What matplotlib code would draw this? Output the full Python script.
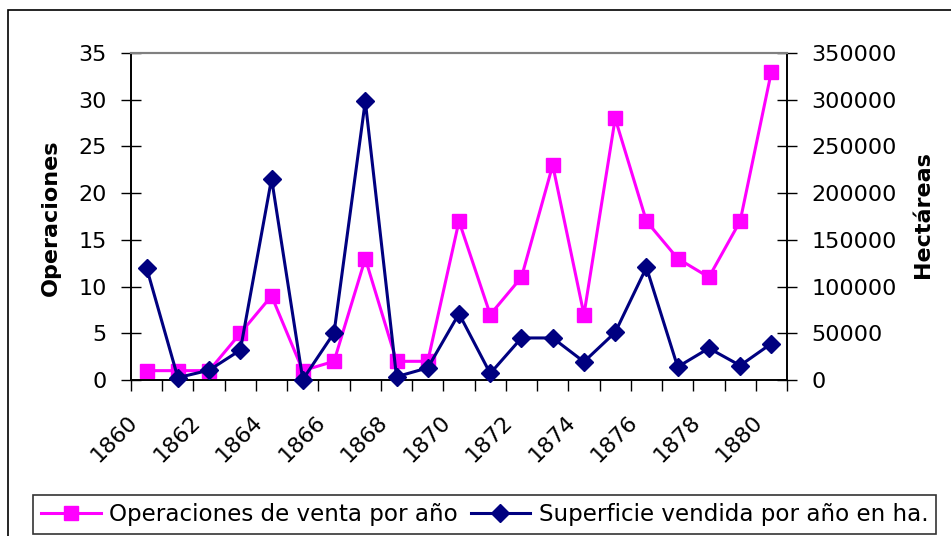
import numpy as np
import matplotlib.pyplot as plt
from matplotlib.lines import Line2D
from matplotlib.patches import Rectangle
from matplotlib.transforms import ScaledTranslation

plt.rcParams['font.family'] = ['DejaVu Sans']

#### Data ####

years = list(range(1860, 1881))
operaciones = [1, 1, 1, 5, 9, 1, 2, 13, 2, 2, 17, 7, 11, 23, 7, 28, 17, 13, 11, 17, 33]
superficie = [120000, 2500, 10500, 32000, 215500, 500, 50500, 298500, 3500, 13000,
              71000, 7000, 45000, 45000, 19500, 51000, 120500, 14000, 34000, 15500, 39000]
year_labels = [str(y) for y in years[::2]]

####################

fs = 16
pink = '#FF00FF'
navy = '#000080'

fig = plt.figure(figsize=(9.51, 5.36), dpi=100)
fig.patches.append(Rectangle((8/951, -0.1), 1.2, (536-10)/536 + 0.1,
                             transform=fig.transFigure, fill=False,
                             edgecolor='black', linewidth=1.2, zorder=0))

ax = fig.add_axes([131/951, 1 - 380/536, 656/951, 327/536])
ax2 = ax.twinx()

x = np.arange(len(years))
ax.plot(x, operaciones, color=pink, lw=2.2, marker='s', ms=10.5, mec=pink,
        clip_on=False, zorder=3)
ax2.plot(x, superficie, color=navy, lw=2.2, marker='D', ms=9.5, mec=navy,
         clip_on=False, zorder=4)

ax.set_xlim(-0.5, len(years) - 0.5)
ax.set_ylim(0, 35)
ax2.set_ylim(0, 350000)
ax.set_yticks(np.arange(0, 36, 5))
ax2.set_yticks(np.arange(0, 350001, 50000))

# category ticks between years, labels every other year
ax.set_xticks(np.arange(-0.5, len(years)), minor=False)
ax.set_xticklabels([])
ax.set_xticks(x[::2], minor=True)
ax.set_xticklabels(year_labels, minor=True, rotation=45, ha='right', va='top',
                   rotation_mode='anchor', fontsize=fs)
ax.tick_params(axis='x', which='major', direction='out', length=8, width=1)
ax.tick_params(axis='x', which='minor', length=0, pad=23)
shift = ScaledTranslation(-0.19, 0, fig.dpi_scale_trans)
for lab in ax.get_xticklabels(minor=True):
    lab.set_transform(lab.get_transform() + shift)

ax.tick_params(axis='y', direction='inout', length=14, width=1, labelsize=fs, pad=10.5)
ax2.tick_params(axis='y', direction='inout', length=14, width=1, labelsize=fs, pad=10.5)

for a in (ax, ax2):
    a.spines['top'].set_color('#808080')
    a.spines['top'].set_linewidth(1.5)
    a.spines['left'].set_linewidth(1.2)
    a.spines['right'].set_linewidth(1.2)
    a.spines['bottom'].set_linewidth(1.2)

fig.text(51/951, 1 - 218/536, 'Operaciones', rotation=90, fontsize=fs,
         fontweight='bold', ha='center', va='center')
fig.text(923/951, 1 - 215/536, 'Hectáreas', rotation=90, fontsize=fs,
         fontweight='bold', ha='center', va='center')

handles = [Line2D([], [], color=pink, lw=2.2, marker='s', ms=10.5),
           Line2D([], [], color=navy, lw=2.2, marker='D', ms=9.5)]
leg = fig.legend(handles, ['Operaciones de venta por año',
                           'Superficie vendida por año en ha.'],
                 loc='lower left', bbox_to_anchor=(33/951, 2/536), ncol=2,
                 fontsize=16.6, frameon=True, fancybox=False, edgecolor='black',
                 handlelength=2.6, handletextpad=0.35, columnspacing=0.55,
                 borderpad=0.35, borderaxespad=0)
leg.get_frame().set_linewidth(1.2)

fig.savefig('out.png', dpi=100)
